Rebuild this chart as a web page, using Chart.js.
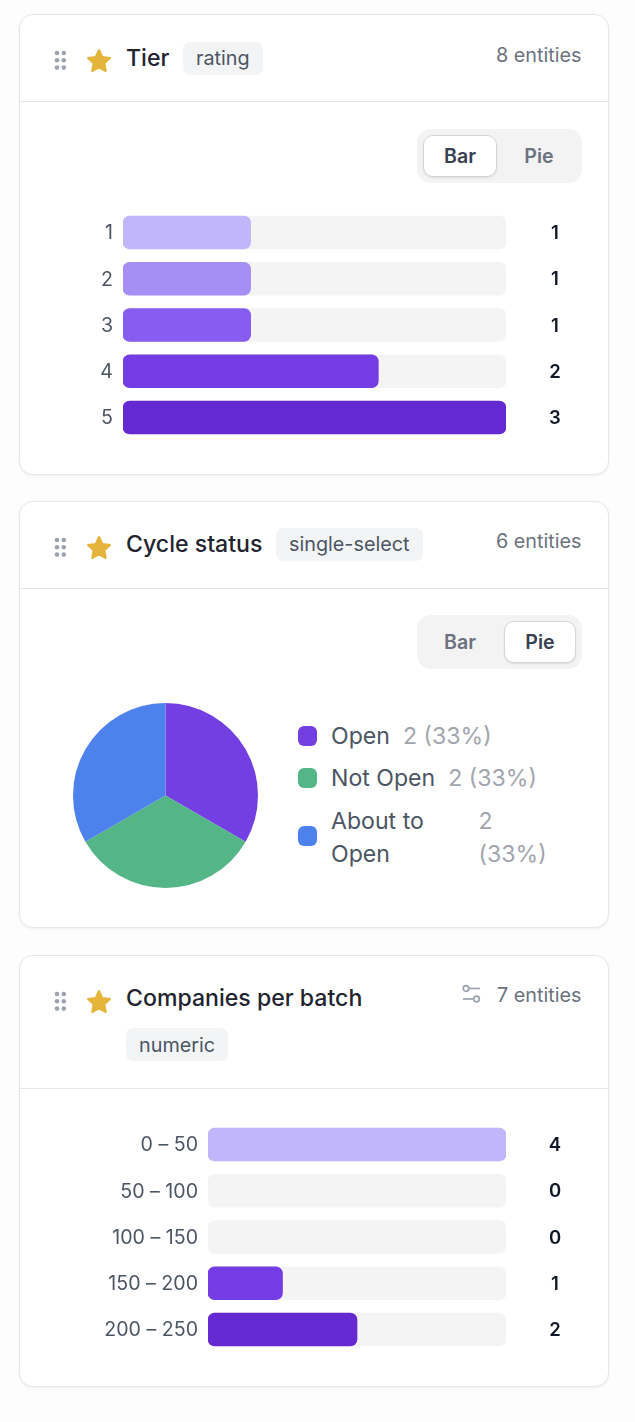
<!DOCTYPE html>
<html>
<head>
<meta charset="utf-8">
<script src="https://cdn.jsdelivr.net/npm/chart.js@4"></script>
<style>
  html, body { margin: 0; padding: 0; }
  body { width: 635px; height: 1422px; background: #fdfdfd; position: relative; overflow: hidden; font-family: Inter, sans-serif; }
  .card { position: absolute; left: 19px; width: 588px; background: #fff; border: 1px solid #e5e7eb; border-radius: 14px; box-shadow: 0 1px 3px rgba(0,0,0,0.06); }
  .rule { position: absolute; left: 20px; width: 588px; height: 1px; background: #e5e7eb; }
  .abs { position: absolute; white-space: nowrap; }
  .title { font-size: 23.1px; line-height: 28px; color: #1f2430; font-weight: 500; }
  .tag { font-size: 19.8px; line-height: 33px; height: 33px; padding: 0 13px; background: #f3f4f6; color: #4b5563; border-radius: 7px; }
  .count { font-size: 19.8px; line-height: 24px; color: #6b7280; }
  .toggle { position: absolute; left: 417px; width: 165px; height: 54px; background: #f3f3f3; border-radius: 14px; }
  .toggle span { position: absolute; top: 6px; width: 74px; height: 42px; line-height: 43px; box-sizing: border-box; text-align: center; font-size: 19.6px; font-weight: 600; color: #6b7280; border-radius: 10px; }
  .toggle span.on { background: #fff; color: #374151; border: 1px solid #d1d5db; line-height: 41px; box-shadow: 0 1px 2px rgba(0,0,0,0.1); }
  canvas { position: absolute; }
  #legend { position: absolute; left: 298px; top: 720px; width: 256px; display: flex; flex-direction: column; gap: 9px; font-size: 23.1px; line-height: 33px; }
  .item { display: flex; align-items: center; }
  .item:last-child .name, .item:last-child .val { position: relative; top: 1px; }
  .swatch { flex: none; width: 19px; height: 20px; border-radius: 6px; margin-right: 14px; position: relative; top: -1px; }
  .name { color: #4b5563; }
  .val { color: #a1a5ad; margin-left: 13px; }
</style>
</head>
<body>
<div class="card" style="top:14px;height:459px"></div>
<div class="rule" style="top:101px"></div>
<div class="card" style="top:501px;height:425px"></div>
<div class="rule" style="top:588px"></div>
<div class="card" style="top:955px;height:430px"></div>
<div class="rule" style="top:1088px"></div>

<div class="abs title" style="left:126px;top:44px">Tier</div>
<div class="abs tag" style="left:183px;top:42px">rating</div>
<div class="abs count" style="left:496px;top:43px">8 entities</div>
<div class="toggle" style="top:129px"><span class="on" style="left:6px">Bar</span><span style="left:85px">Pie</span></div>
<canvas id="tierChart" width="588" height="232" style="left:20px;top:209px"></canvas>

<div class="abs title" style="left:126px;top:530px">Cycle status</div>
<div class="abs tag" style="left:276px;top:528px">single-select</div>
<div class="abs count" style="left:496px;top:529px">6 entities</div>
<div class="toggle" style="top:615px"><span style="left:6px">Bar</span><span class="on" style="left:87px;width:72px">Pie</span></div>
<canvas id="cycleChart" width="185" height="185" style="left:73px;top:703px"></canvas>
<div id="legend"></div>

<div class="abs title" style="left:126px;top:984px">Companies per batch</div>
<div class="abs tag" style="left:126px;top:1028px;line-height:35px">numeric</div>
<div class="abs count" style="left:497px;top:983px">7 entities</div>
<svg class="abs" style="left:461px;top:984px" width="21" height="21" viewBox="0 0 21 21" fill="none" stroke="#9ca3af" stroke-width="1.7">
  <circle cx="5" cy="4.5" r="2.8"/><path d="M8 4.5H19"/>
  <circle cx="15.5" cy="15" r="2.8"/><path d="M2 15H12.5"/>
</svg>
<canvas id="batchChart" width="588" height="232" style="left:20px;top:1121px"></canvas>

<script>
const tierLabels = ["1", "2", "3", "4", "5"];
const tierValues = [1, 1, 1, 2, 3];
const tierColors = ["#c2b6fa", "#a58ff5", "#875cf0", "#733de3", "#6429d0"];

const cycleLabels = ["Open", "Not Open", "About to Open"];
const cycleValues = [2, 2, 2];
const cyclePercents = ["33%", "33%", "33%"];
const cycleColors = ["#733fe3", "#54b587", "#4d82ec"];

const batchLabels = ["0 – 50", "50 – 100", "100 – 150", "150 – 200", "200 – 250"];
const batchValues = [4, 0, 0, 1, 2];
const batchColors = ["#c2b6fa", "#a58ff5", "#875cf0", "#733de3", "#6429d0"];

// header decorations, same spot in every card
function addHeaderIcons(top) {
  const star = `<svg class="abs" style="left:86px;top:${top + 5}px" width="26" height="25" viewBox="0 0 26 25">
    <path d="M13 2 L16.3 9 L24 10 L18.4 15.3 L19.8 23 L13 19.3 L6.2 23 L7.6 15.3 L2 10 L9.7 9 Z" fill="#e5b53b" stroke="#e5b53b" stroke-width="2" stroke-linejoin="round"/></svg>`;
  let dots = "";
  [0, 1, 2].forEach((r) => {
    [0, 1].forEach((c) => {
      dots += `<circle cx="${3 + c * 6.8}" cy="${3 + r * 7.3}" r="2.3" fill="#9ca3af"/>`;
    });
  });
  const grip = `<svg class="abs" style="left:54px;top:${top + 7}px" width="14" height="22">${dots}</svg>`;
  document.body.insertAdjacentHTML("beforeend", star + grip);
}
[43, 530, 984].forEach(addHeaderIcons);

// counts at the right of each row
const rowValues = {
  id: "rowValues",
  afterDraw(chart) {
    const ctx = chart.ctx;
    ctx.save();
    ctx.font = "600 18.5px Inter";
    ctx.fillStyle = "#111827";
    ctx.textAlign = "center";
    ctx.textBaseline = "middle";
    chart.data.datasets[0].data.forEach((v, i) => {
      ctx.fillText(v, 535, chart.scales.y.getPixelForTick(i) + 1);
    });
    ctx.restore();
  },
};

function barChart(id, labels, values, colors, yWidth, max) {
  return new Chart(document.getElementById(id), {
    type: "bar",
    data: {
      labels: labels,
      datasets: [
        // an empty bucket draws nothing on top of the track
        { data: values, backgroundColor: values.map((v, i) => (v === 0 ? "transparent" : colors[i])) },
        { data: labels.map(() => max), backgroundColor: "#f4f4f4" },
      ],
    },
    options: {
      indexAxis: "y",
      responsive: false,
      animation: false,
      layout: { padding: { right: 102, top: 0.375, bottom: 0.375 } },
      datasets: { bar: { grouped: false, barThickness: 33, borderRadius: 7, borderSkipped: false } },
      plugins: { legend: { display: false }, tooltip: { enabled: false } },
      scales: {
        x: { display: false, min: 0, max: max },
        y: {
          // rows must fill the canvas height, so drop the room kept for the tick labels
          afterFit: (s) => {
            s.width = yWidth;
            s.paddingTop = 0;
            s.paddingBottom = 0;
          },
          grid: { display: false, drawTicks: false },
          border: { display: false },
          ticks: { color: "#4b5563", padding: 10, labelOffset: 1, font: { family: "Inter", size: 19.6 } },
        },
      },
    },
    plugins: [rowValues],
  });
}

barChart("tierChart", tierLabels, tierValues, tierColors, 103, 3);
barChart("batchChart", batchLabels, batchValues, batchColors, 188, 4);

new Chart(document.getElementById("cycleChart"), {
  type: "pie",
  data: {
    labels: cycleLabels,
    datasets: [{ data: cycleValues, backgroundColor: cycleColors, borderWidth: 0 }],
  },
  options: {
    responsive: false,
    animation: false,
    plugins: { legend: { display: false }, tooltip: { enabled: false } },
  },
});

const legend = document.getElementById("legend");
cycleLabels.forEach((name, i) => {
  const div = document.createElement("div");
  div.className = "item";
  div.innerHTML = `<span class="swatch" style="background:${cycleColors[i]}"></span><span class="name">${name}</span><span class="val">${cycleValues[i]} (${cyclePercents[i]})</span>`;
  legend.appendChild(div);
});
</script>
</body>
</html>
